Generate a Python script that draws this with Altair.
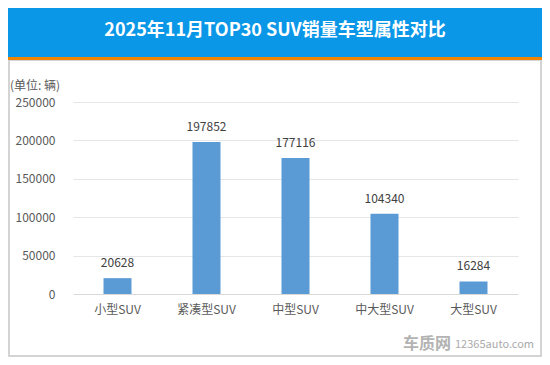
import altair as alt
import pandas as pd

categories = ["小型SUV", "紧凑型SUV", "中型SUV", "中大型SUV", "大型SUV"]
sales = [20628, 197852, 177116, 104340, 16284]
y_ticks = [0, 50000, 100000, 150000, 200000, 250000]
title_text = "2025年11月TOP30 SUV销量车型属性对比"
unit_text = "(单位: 辆)"

FONT = "Noto Sans CJK SC"
W, H = 445, 192
PL, PT, PR, PB = 65, 94, 24, 63

df = pd.DataFrame({"cat": categories, "val": sales})
one = pd.DataFrame({"a": [0]})

x_enc = alt.X("cat:N", sort=categories, title=None,
              scale=alt.Scale(paddingInner=0, paddingOuter=0),
              axis=alt.Axis(labelAngle=0, ticks=False, domain=True, domainColor="#d9d9d9",
                            labelPadding=10, labelFontSize=12, labelColor="#595959", labelFont=FONT))
y_enc = alt.Y("val:Q", title=None,
              scale=alt.Scale(domain=[0, 250000], nice=False),
              axis=alt.Axis(values=y_ticks, format="d", labelOverlap=False, grid=True,
                            gridColor="#e6e6e6", domain=False, ticks=False,
                            labelPadding=18, labelFontSize=12, labelColor="#595959", labelFont=FONT))

bars = alt.Chart(df).mark_bar(size=28, color="#5b9bd5").encode(x=x_enc, y=y_enc)
labels = alt.Chart(df).mark_text(baseline="bottom", dy=-8, fontSize=12, color="#404040", font=FONT).encode(
    x=x_enc, y=y_enc, text="val:Q")

frame = alt.Chart(one).mark_rect(fill=None, stroke="#d4d4d4", strokeWidth=2).encode(
    x=alt.value(-PL + 1), x2=alt.value(W + PR - 1), y=alt.value(-42), y2=alt.value(H + PB - 1))
header = alt.Chart(one).mark_rect(color="#0a97e8").encode(
    x=alt.value(-PL), x2=alt.value(W + PR), y=alt.value(-PT), y2=alt.value(-45))
orange = alt.Chart(one).mark_rect(color="#f08300").encode(
    x=alt.value(-PL), x2=alt.value(W + PR), y=alt.value(-45), y2=alt.value(-42))
title = alt.Chart(one).mark_text(text=title_text, fontSize=18, fontWeight="bold", color="white",
                                 font=FONT, align="center", baseline="middle").encode(
    x=alt.value(202), y=alt.value(-71))
unit = alt.Chart(one).mark_text(text=unit_text, fontSize=12, color="#595959", font=FONT,
                                align="left", baseline="middle").encode(
    x=alt.value(-63), y=alt.value(-16))
wm1 = alt.Chart(one).mark_text(text="车质网", fontSize=16, fontWeight="bold", color="#b3b3b3",
                               font=FONT, align="left", baseline="middle").encode(
    x=alt.value(330), y=alt.value(242))
wm2 = alt.Chart(one).mark_text(text="12365auto.com", fontSize=11, color="#aaaaaa",
                               font=FONT, align="left", baseline="middle").encode(
    x=alt.value(382), y=alt.value(243))

chart = alt.layer(frame, header, orange, title, unit, bars, labels, wm1, wm2).properties(
    width=W, height=H,
    autosize=alt.AutoSizeParams(type="none"),
    padding={"left": PL, "top": PT, "right": PR, "bottom": PB},
).configure_view(stroke=None)

chart.save("out.html", embed_options={"renderer": "svg", "actions": False})
